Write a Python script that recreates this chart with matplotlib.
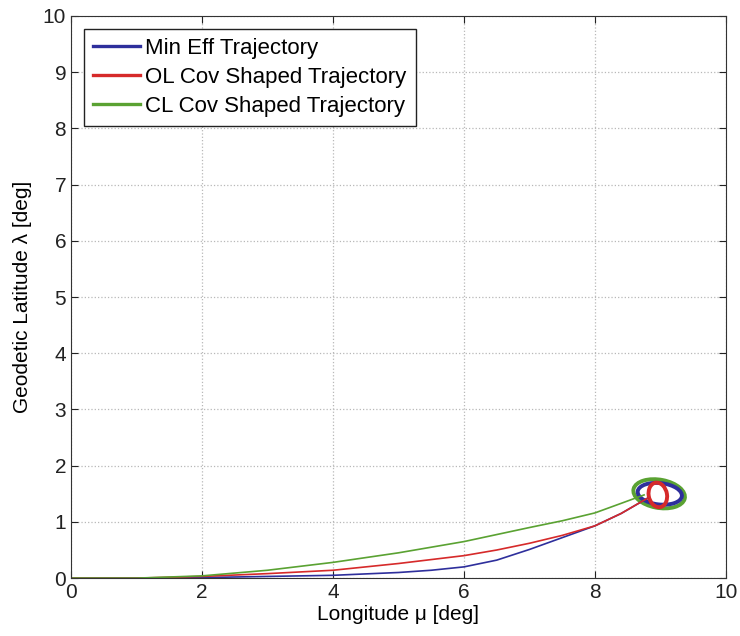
import matplotlib.pyplot as plt
from matplotlib.patches import Ellipse

plt.rcParams['font.family'] = ['Liberation Sans', 'DejaVu Sans']

# trajectory ground tracks (longitude, latitude) in deg
min_eff_lon = [0, 1, 2, 3, 4, 5, 5.5, 6, 6.5, 7, 7.5, 8, 8.4, 8.8]
min_eff_lat = [0, 0, 0.01, 0.03, 0.05, 0.1, 0.14, 0.2, 0.32, 0.51, 0.72, 0.93, 1.15, 1.42]

ol_lon = [0, 1, 2, 3, 4, 5, 6, 6.5, 7, 7.5, 8, 8.4, 8.8]
ol_lat = [0, 0, 0.03, 0.08, 0.14, 0.26, 0.4, 0.5, 0.62, 0.76, 0.93, 1.15, 1.42]

cl_lon = [0, 1, 2, 3, 4, 5, 6, 7, 7.5, 8, 8.4, 8.75]
cl_lat = [0, 0, 0.04, 0.14, 0.28, 0.45, 0.65, 0.9, 1.02, 1.16, 1.33, 1.48]

# terminal loiter loops: centre, width, height, tilt
loop_center = [(8.99, 1.5), (8.96, 1.48), (8.98, 1.5)]
loop_width = [0.68, 0.28, 0.80]
loop_height = [0.38, 0.44, 0.50]
loop_angle = [-8, 8, -13]

labels = ['Min Eff Trajectory', 'OL Cov Shaped Trajectory', 'CL Cov Shaped Trajectory']
colors = ['#2e2f9c', '#d62a2a', '#5aa232']

fig = plt.figure(figsize=(7.4, 6.36), dpi=100)
ax = fig.add_axes([0.096, 0.091, 0.885, 0.884])

tracks = [(min_eff_lon, min_eff_lat), (ol_lon, ol_lat), (cl_lon, cl_lat)]
for (lon, lat), c, lab in zip(tracks, colors, labels):
    ax.plot(lon, lat, color=c, lw=1.2)
    ax.plot([], [], color=c, lw=2.4, label=lab)

# draw the loops with the larger green one underneath
for i in [2, 0, 1]:
    ax.add_patch(Ellipse(loop_center[i], loop_width[i], loop_height[i], angle=loop_angle[i],
                         fill=False, edgecolor=colors[i], lw=2.8))

ax.set_xlim(0, 10)
ax.set_ylim(0, 10)
ax.set_xticks(range(0, 11, 2))
ax.set_yticks(range(0, 11))
ax.grid(True, linestyle=':', color='#b8b8b8', lw=0.9)
ax.tick_params(direction='in', top=True, right=True, labelsize=15, length=5, colors='#222222')
for s in ax.spines.values():
    s.set_color('#333333')

ax.set_xlabel('Longitude μ [deg]', fontsize=15, labelpad=2)
ax.set_ylabel('Geodetic Latitude λ [deg]', fontsize=15, labelpad=8)

leg = ax.legend(loc='upper left', fontsize=16, fancybox=False, framealpha=1,
                edgecolor='#222222', borderaxespad=0.6, handlelength=2.1,
                handletextpad=0.25, labelspacing=0.36, borderpad=0.4)
leg.get_frame().set_linewidth(1.0)

fig.savefig('out.png', dpi=100)
